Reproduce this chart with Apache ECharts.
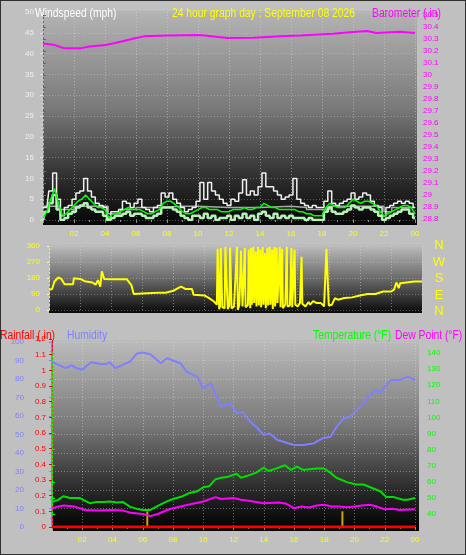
<!DOCTYPE html>
<html><head><meta charset="utf-8">
<script src="https://cdn.jsdelivr.net/npm/echarts@6/dist/echarts.min.js"></script>
<style>
html,body{margin:0;padding:0;background:#c0c0c0;}
#c{width:466px;height:555px;box-sizing:border-box;}
#wrap{position:relative;width:466px;height:555px;box-sizing:border-box;border:1px solid #303030;overflow:hidden;}
#c{position:absolute;left:-1px;top:-1px;}
</style></head>
<body><div id="wrap"><div id="c"></div></div>
<script>
// ---------- DATA ----------
var hours15 = []; // quarter-hour time axis 0..24
for (var i = 0; i <= 96; i++) hours15.push(i / 4);

var windGust = [3,3,7,11.3,5,1,3,3.5,5,6.5,7,10,7,5.5,4,3.5,3,0.5,2,2,2.5,4.5,4,3,4,5,3,2.5,2,3,3.5,6.5,5.5,6.5,5,4,3,2,2.5,3,4.5,9,5,9,7,6,5,4,3.5,5,4.5,6.5,9.7,6,7,6,8,11.3,8,8,7,6,5,5.5,6,10,5,4,3.5,3,3.5,3,3,4.5,7,4,3.5,4,4.5,5,6.5,5,5.5,6.5,6,4.5,3.5,3,1,3,3.5,4,4.5,4,4.5,4,3];
var windAvg = [0.5,2,5,7.5,4,1,1.5,2.5,3.5,4.5,5,6,5,4,3,3,2.5,0.5,1.5,1.5,2,2.5,3,2.5,2.5,2.5,2,1.5,1.5,2,2.5,4,4.5,4.5,3.8,3,2,1.5,1.5,2,2.5,3,3,2.5,2.5,2.5,2,2,2,2.5,2.5,2.5,3,2.5,2.5,3,3,4,3.5,3,3,2.5,2.5,2.5,2.5,2.5,2,2,1.5,1.5,1,1,1,3,4,3.5,3,3,3,4,5,4.5,4,4.5,4.5,4,3.5,2,1,1.5,2,2.5,3,3.5,3.5,3,1.5];
var windLull = [0,2,4,6,2.5,0,0.5,1.5,2,3,3.5,4,3,2.5,2,2,1,0,0.5,1,1,1.5,2,1,1.5,1.5,1,0.5,0.5,1,1.5,3,3,3,2.5,2,1,0.5,0,1,1,0.5,1.5,0.5,1,0,0.5,0.5,1,0,1,0.5,1.5,0.5,1,0,1.5,2,1,0.5,1.5,0.5,1,0.5,1,0.5,0.5,0.5,0,0.5,0,0,0,2,3,2,1.5,1.5,2,2.5,3.5,3,2.5,3,3,2.5,2,1,0,0.5,1,1.5,2,2.5,2.5,1.5,0.5];
var windMeanHours = [0,1,1.1,1.5,2,4,4.2,4.5,5,6,7,7.5,9,10,12,14,16,17,18,18.5,21,22,22.5,24];
var windMean = [3.3,3.3,2.5,2.5,3.3,3.3,1.5,1.5,2.5,3,3,3.3,3.3,3,3,3.3,3,2.5,2.5,3.3,3.3,2,3,3];

var baroHours = [0,0.65,1.2,1.5,2.4,3,3.9,4.5,5.2,5.8,6.5,8,10.1,11.9,13.6,15.3,16.6,18.7,20,20.9,21.5,23,24];
var baroValues = [30.263,30.253,30.23,30.222,30.222,30.238,30.247,30.263,30.283,30.302,30.322,30.33,30.333,30.308,30.311,30.322,30.33,30.344,30.358,30.367,30.35,30.36,30.35];

var dirHours = [0,0.2,0.35,0.6,0.8,1.0,1.55,1.6,2.0,2.3,2.8,3.0,3.15,3.3,3.4,3.55,4.0,5.0,5.3,5.45,6.0,7.0,7.5,8.0,8.3,8.5,8.8,9.2,9.3,10.0,10.3,10.6,10.8,10.85,10.95,11.0,11.05,11.15,11.3,11.35,11.45,11.5,11.6,11.65,11.75,11.9,12.0,12.1,12.15,12.25,12.35,12.45,12.6,12.65,12.8,12.85,12.95,13.0,13.05,13.15,13.2,13.3,13.35,13.45,13.5,13.6,13.65,13.75,13.8,13.9,13.95,14.05,14.1,14.2,14.25,14.35,14.4,14.5,14.55,14.65,14.7,14.85,14.9,15.0,15.05,15.2,15.3,15.35,15.5,15.6,15.65,15.8,15.85,16.0,16.15,16.25,16.3,16.5,16.7,16.8,17.0,17.2,17.5,17.7,17.8,17.85,17.95,18.0,18.2,18.4,18.6,19.0,19.5,20.0,20.5,21.0,21.5,22.0,22.2,22.35,22.45,22.5,22.6,23.0,23.5,24];
var dirValues = [114,118,160,183,175,145,145,179,175,162,155,142,168,132,218,175,173,173,140,90,93,97,97,108,123,132,118,118,86,82,67,49,30,345,5,20,350,15,10,355,355,5,25,352,8,20,12,355,2,30,335,20,350,15,28,340,10,350,30,355,40,330,20,355,25,340,15,355,30,320,10,350,25,355,30,340,5,355,20,350,40,355,15,345,10,30,355,20,25,350,15,340,30,20,40,300,35,20,45,30,50,40,39,20,20,345,340,25,30,67,58,67,71,82,90,90,104,104,114,155,155,123,151,155,160,160];

var humHours = [0,0.4,0.9,1.3,1.6,2.0,2.4,2.6,3.2,3.6,3.8,4.2,4.7,5.2,5.6,6.0,6.5,7.2,7.6,8.5,8.9,9.6,10.0,10.5,10.9,11.2,11.8,12.2,12.6,13.1,13.5,14.0,14.4,14.9,15.3,16.0,16.6,17.3,17.9,18.4,18.9,19.3,19.7,20.5,21.0,21.4,21.7,22.4,23.0,23.5,24];
var humValues = [89.3,87.8,85.9,87.4,85.9,85,87.8,89.1,88.1,88.1,89.1,85.9,87.8,89.6,93.7,94.3,93.4,88.5,91.2,88.5,84,81.2,75,77.7,70.4,65,66.9,61.4,62.3,56.9,54.2,49.7,50.6,47,46.1,44.3,44.3,45.2,48,48.8,55.1,58.8,59.6,66,71,73.9,73,79.4,79.4,81.3,79.4];

var tempHours = [0,0.4,0.75,1.2,1.85,2.2,2.5,2.95,3.4,3.8,4.3,4.7,5.15,5.6,6.0,6.5,6.9,7.6,8.0,8.6,9.1,9.6,10.0,10.4,10.8,11.2,11.65,12.2,12.5,13.0,13.5,14.0,14.3,14.8,15.4,15.8,16.2,16.6,17.0,17.5,18.0,18.4,18.8,19.5,20.1,20.6,21.0,21.7,22.1,22.6,23.2,23.5,24];
var tempValues = [47.4,48.8,51,49.9,49.9,48.2,46.7,47.4,47.4,47.8,47.2,47.4,44.6,43.2,42.5,42.5,44.6,47.8,49.3,50.9,53.1,54.1,56.6,57.3,61.5,62.5,63.2,65,62.5,64,65.7,68.8,66.7,68.2,70.3,67.4,69.5,67.4,67.8,68.2,68.2,65.7,62.5,59.8,58.3,58.3,56.8,54.1,50.5,50.5,48.8,48.8,49.9];

var dewHours = [0,0.4,0.8,1.5,2.2,3,4,4.7,5.2,6,6.5,7,7.6,8,9,10,10.8,11.2,12,12.5,13,14,15,15.5,16,16.5,17,17.5,18,18.5,19,19.5,20,20.5,21,21.5,22,22.5,23,24];
var dewValues = [43.6,44.6,45.3,44.6,42.5,42.1,42.5,42.1,40.8,40,38.7,40,42.5,43.6,45.7,47.8,50.5,49.3,49.9,48.8,48.2,46.7,47.2,46.3,43.6,44.6,44,45.3,45.7,44.6,44.6,44.2,44.6,45.3,45.7,44.6,42.9,43.2,42.5,42.9];

var rainHours = [0,24];
var rainValues = [0,0];
var rainRateHours = [6.3,19.2];
var rainRateValues = [0.1,0.1];

var compassLetters = ['N','W','S','E','N'];
var dateText = 'September 08 2026';

// ---------- BUILD ----------
function pairs(xs, ys){ var o=[]; for(var i=0;i<xs.length;i++) o.push([xs[i], ys[i]]); return o; }
function hourLabel(v){ if (v === 0) return ''; var h = v % 24; return (h < 10 ? '0' : '') + h; }

var FONT = 'Liberation Sans';
var chart = echarts.init(document.getElementById('c'), null, {renderer:'canvas'});

function xAx(grid, showLabels, offset){
  return {
    type:'value', gridIndex:grid, min:0, max:24, interval:2, offset: offset||0,
    axisLine:{show:false},
    axisTick:{show:showLabels, length:3, lineStyle:{color:'#909090'}},
    minorTick:{show:showLabels, splitNumber:2, length:2, lineStyle:{color:'#909090'}},
    axisLabel:{show:showLabels, color:'#ffff00', fontSize:8, fontFamily:FONT, margin:5, formatter:hourLabel},
    splitLine:{show: grid===0||grid===3||grid===2, lineStyle:{color:'rgba(225,225,225,0.45)', type:[1,2], width:1}}
  };
}
function label(txt, x, y, color){
  return {type:'text', x:x, y:y, scaleX:0.86, style:{text:txt, fill:color, font:'12px '+FONT, textVerticalAlign:'alphabetic'}};
}

var option = {
  animation:false,
  backgroundColor:'#c0c0c0',
  grid:[
    {left:43, right:51, top:12, height:208},   // wind
    {left:43, right:51, top:15, height:204},   // barometer
    {left:49, right:44, top:246, height:64},   // direction
    {left:52, right:51, top:342, height:185},  // humidity
    {left:52, right:51, top:339, height:188},  // rain
    {left:52, right:51, top:353, height:161}   // temp / dew
  ],
  xAxis:[ xAx(0,true,5), xAx(1,false), xAx(2,false), xAx(3,true,4), xAx(4,false), xAx(5,false) ],
  yAxis:[
    {type:'value', gridIndex:0, min:0, max:50, interval:5, offset:1,
      axisLine:{show:true, lineStyle:{color:'#e0e0e0', width:1}},
      axisTick:{show:true, length:3, lineStyle:{color:'#e0e0e0'}},
      minorTick:{show:true, splitNumber:5, length:2, lineStyle:{color:'#d0d0d0'}},
      axisLabel:{color:'#f0f0f0', fontSize:8, fontFamily:FONT, margin:8},
      splitLine:{show:true, lineStyle:{color:'rgba(220,220,220,0.35)', type:[1,2]}}},
    {type:'value', gridIndex:1, position:'right', min:28.8, max:30.5, interval:0.1, offset:4,
      axisLine:{show:true, lineStyle:{color:'#ff00ff', type:[2,2]}},
      axisTick:{show:true, length:3, lineStyle:{color:'#ff00ff'}},
      axisLabel:{color:'#ff00ff', fontSize:8, fontFamily:FONT, margin:4},
      splitLine:{show:false}},
    {type:'value', gridIndex:2, min:0, max:360, interval:90, offset:1,
      axisLine:{show:true, lineStyle:{color:'#e8e8a0', type:[2,2]}},
      axisTick:{show:true, length:2, lineStyle:{color:'#ffff80'}},
      axisLabel:{color:'#ffff00', fontSize:8, fontFamily:FONT, margin:8},
      splitLine:{show:true, lineStyle:{color:'rgba(220,220,220,0.35)', type:[1,2]}}},
    {type:'value', gridIndex:3, min:0, max:100, interval:10, offset:22,
      axisLine:{show:true, lineStyle:{color:'#8080ff', width:2}},
      axisTick:{show:true, length:3, lineStyle:{color:'#8080ff'}},
      minorTick:{show:true, splitNumber:2, length:2, lineStyle:{color:'#8080ff'}},
      axisLabel:{color:'#8080ff', fontSize:8, fontFamily:FONT, margin:6},
      splitLine:{show:true, lineStyle:{color:'rgba(225,225,225,0.4)', type:[1,2]}}},
    {type:'value', gridIndex:4, min:0, max:1.2, interval:0.1, offset:0,
      axisLine:{show:true, lineStyle:{color:'#ff0000', type:[2,2], width:1}},
      axisTick:{show:true, length:3, lineStyle:{color:'#ff0000'}},
      axisLabel:{color:'#ff0000', fontSize:8, fontFamily:FONT, margin:6},
      splitLine:{show:false}},
    {type:'value', gridIndex:5, position:'right', min:40, max:140, interval:10, offset:7,
      axisLine:{show:true, lineStyle:{color:'#00ff00', type:[2,2]}},
      axisTick:{show:true, length:3, lineStyle:{color:'#00ff00'}},
      axisLabel:{color:'#00ff00', fontSize:8, fontFamily:FONT, margin:5},
      splitLine:{show:false}}
  ],
  graphic:[
    {type:'rect', z:-10, shape:{x:43, y:11, width:374, height:214},
      style:{fill:new echarts.graphic.LinearGradient(0,0,0,1,[{offset:0,color:'#b4b4b4'},{offset:0.45,color:'#7a7a7a'},{offset:0.8,color:'#2a2a2a'},{offset:1,color:'#050505'}])}},
    {type:'rect', z:-10, shape:{x:49, y:244, width:373, height:69},
      style:{fill:new echarts.graphic.LinearGradient(0,0,0,1,[{offset:0,color:'#c0c0c0'},{offset:0.5,color:'#6a6a6a'},{offset:1,color:'#0a0a0a'}])}},
    {type:'rect', z:-10, shape:{x:53, y:340, width:366, height:191},
      style:{fill:new echarts.graphic.LinearGradient(0,0,0,1,[{offset:0,color:'#bcbcbc'},{offset:0.45,color:'#787878'},{offset:0.8,color:'#262626'},{offset:1,color:'#000000'}])}},
    label('Windspeed (mph)', 35, 8, '#ffffff'),
    label('24 hour graph day : ' + dateText, 172, 8, '#ffff00'),
    label('Barometer (.in)', 372, 8, '#ff00ff'),
    label('Rainfall (.in)', 0, 330, '#ff0000'),
    label('Humidity', 67, 330, '#8080ff'),
    label('Temperature (°F)', 313, 330, '#00ff00'),
    label('Dew Point (°F)', 395, 330, '#ff00ff')
  ].concat(compassLetters.map(function(l, i){
    var ys = [245, 262, 278, 295, 311];
    return {type:'text', x:439, y:ys[i], style:{text:l, fill:'#ffff00', font:'13px '+FONT, textAlign:'center', textVerticalAlign:'middle'}};
  })),
  series:[
    {type:'line', xAxisIndex:0, yAxisIndex:0, data:pairs(windMeanHours, windMean), step:'end', symbol:'none', lineStyle:{color:'#a8a8a8', width:1.5}},
    {type:'line', xAxisIndex:0, yAxisIndex:0, data:pairs(hours15, windGust), step:'middle', symbol:'none', lineStyle:{color:'#f0f0f0', width:1.5}},
    {type:'line', xAxisIndex:0, yAxisIndex:0, data:pairs(hours15, windLull), step:'middle', symbol:'none', lineStyle:{color:'#b8f0b8', width:2.5}},
    {type:'line', xAxisIndex:0, yAxisIndex:0, data:pairs(hours15, windAvg), symbol:'none', lineStyle:{color:'#00ff00', width:1.5}},
    {type:'line', xAxisIndex:1, yAxisIndex:1, data:pairs(baroHours, baroValues), symbol:'none', lineStyle:{color:'#ff00ff', width:2}},
    {type:'line', xAxisIndex:2, yAxisIndex:2, data:pairs(dirHours, dirValues), symbol:'none', lineStyle:{color:'#ffff00', width:2}},
    {type:'line', xAxisIndex:3, yAxisIndex:3, data:pairs(humHours, humValues), symbol:'none', lineStyle:{color:'#8080ff', width:2}},
    {type:'bar', xAxisIndex:4, yAxisIndex:4, data:pairs(rainRateHours, rainRateValues), barWidth:2, itemStyle:{color:'#c8a800'}},
    {type:'line', xAxisIndex:4, yAxisIndex:4, data:pairs(rainHours, rainValues), symbol:'none', lineStyle:{color:'#ff0000', width:3}},
    {type:'line', xAxisIndex:5, yAxisIndex:5, data:pairs(tempHours, tempValues), symbol:'none', clip:false, lineStyle:{color:'#00e000', width:2}},
    {type:'line', xAxisIndex:5, yAxisIndex:5, data:pairs(dewHours, dewValues), symbol:'none', clip:false, lineStyle:{color:'#ff00ff', width:2}}
  ]
};
chart.setOption(option);
</script></body></html>
